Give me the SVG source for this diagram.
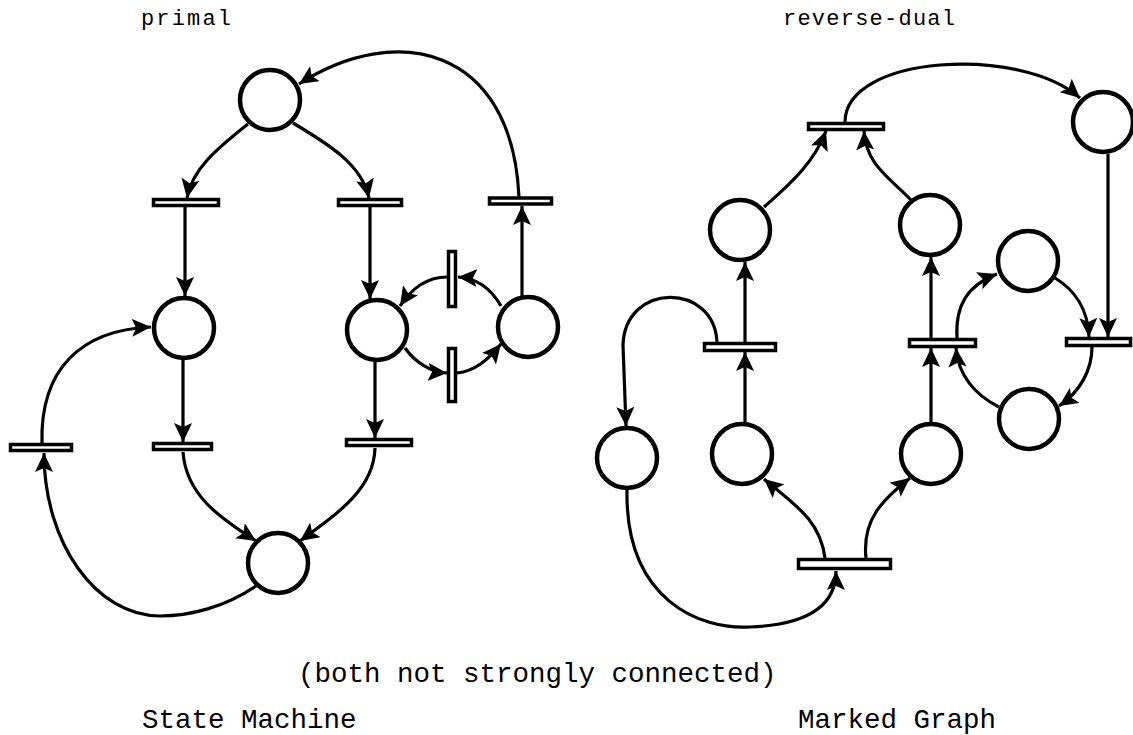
<svg xmlns="http://www.w3.org/2000/svg" width="1133" height="735" viewBox="0 0 1133 735">
<style>
.place{fill:#fff;stroke:#000;stroke-width:4.5}
.bar{fill:#fff;stroke:#000;stroke-width:3.5}
.arc{fill:none;stroke:#000;stroke-width:3.2;marker-end:url(#ah)}
.lbl{font-family:"Liberation Mono","DejaVu Sans Mono",monospace;fill:#000}
</style>
<defs>
<marker id="ah" markerUnits="userSpaceOnUse" markerWidth="20" markerHeight="18" refX="19" refY="9" orient="auto" viewBox="0 0 20 18">
<path d="M0,0 L19,9 L0,18 L4,9 z" fill="#000"/>
</marker>
</defs>
<rect width="1133" height="735" fill="#fff"/>

<g id="connectors">
<path class="arc" d="M248 124 C215 150 192 170 187 198"/>
<path class="arc" d="M293 123 C330 145 362 165 369 198"/>
<path class="arc" d="M519 197 C512 45 395 22 299 84"/>
<path class="arc" d="M185 207 L185 296"/>
<path class="arc" d="M370 207 L370 299"/>
<path class="arc" d="M183 360 L183 442"/>
<path class="arc" d="M375 362 L375 438"/>
<path class="arc" d="M183 452 C186 495 220 518 256 541"/>
<path class="arc" d="M375 448 C374 488 340 512 300 541"/>
<path class="arc" d="M256 586 C225 607 190 616 160 616 C96 616 44 543 44 453"/>
<path class="arc" d="M42 443 C40 370 80 330 151 327"/>
<path class="arc" d="M522 296 L522 206"/>
<path class="arc" d="M501 306 C490 287 476 278 458 277"/>
<path class="arc" d="M447 277 C428 277 412 288 400 306"/>
<path class="arc" d="M405 348 C415 362 430 372 447 373"/>
<path class="arc" d="M457 373 C475 371 488 360 501 344"/>

<path class="arc" d="M845 122 C845 55 1020 45 1080 98"/>
<path class="arc" d="M764 207 C795 180 815 160 826 131"/>
<path class="arc" d="M911 200 C890 178 866 165 864 131"/>
<path class="arc" d="M745 342 L745 262"/>
<path class="arc" d="M745 422 L745 352"/>
<path class="arc" d="M717 342 C714 282 625 282 623 345 L626 426"/>
<path class="arc" d="M931 338 L931 257"/>
<path class="arc" d="M931 422 L931 348"/>
<path class="arc" d="M1108 154 L1108 337"/>
<path class="arc" d="M1055 278 C1075 290 1088 310 1089 337"/>
<path class="arc" d="M1092 347 C1092 370 1080 392 1059 406"/>
<path class="arc" d="M957 338 C955 305 968 285 997 274"/>
<path class="arc" d="M999 407 C975 395 958 375 956 348"/>
<path class="arc" d="M825 558 C820 520 795 505 764 479"/>
<path class="arc" d="M866 558 C862 520 882 500 910 478"/>
<path class="arc" d="M627 490 C625 600 700 630 750 627 C800 625 836 610 836 571"/>
</g>

<g id="p_top"><circle class="place" cx="270" cy="100" r="30"/></g>
<g id="t1"><rect class="bar" x="153.5" y="199.5" width="65" height="6"/></g>
<g id="t2"><rect class="bar" x="338.5" y="199.5" width="63" height="6"/></g>
<g id="t3"><rect class="bar" x="489.5" y="198" width="62" height="6"/></g>
<g id="p_midL"><circle class="place" cx="184" cy="328" r="30"/></g>
<g id="p_midR"><circle class="place" cx="377" cy="330" r="30"/></g>
<g id="p_right"><circle class="place" cx="528" cy="327" r="30"/></g>
<g id="vbar_up"><rect class="bar" x="448.5" y="251.5" width="7" height="55"/></g>
<g id="vbar_low"><rect class="bar" x="448.5" y="348.5" width="7" height="53"/></g>
<g id="t4"><rect class="bar" x="153.5" y="443.5" width="58" height="6"/></g>
<g id="t5"><rect class="bar" x="10.5" y="444.5" width="61" height="6"/></g>
<g id="t6"><rect class="bar" x="346.5" y="439.5" width="65" height="6"/></g>
<g id="p_bot"><circle class="place" cx="278" cy="563" r="30"/></g>

<g id="t_top"><rect class="bar" x="808.5" y="123.5" width="75" height="6"/></g>
<g id="p_tr"><circle class="place" cx="1103" cy="122" r="30"/></g>
<g id="p_L1"><circle class="place" cx="740" cy="230" r="30"/></g>
<g id="p_R1"><circle class="place" cx="930" cy="225" r="30"/></g>
<g id="t_L"><rect class="bar" x="704.5" y="343.5" width="71" height="7"/></g>
<g id="t_R"><rect class="bar" x="909.5" y="339.5" width="66" height="7"/></g>
<g id="t_RR"><rect class="bar" x="1066.5" y="338.5" width="64" height="7"/></g>
<g id="p_R3"><circle class="place" cx="1028" cy="261" r="30"/></g>
<g id="p_R4"><circle class="place" cx="1029" cy="419" r="30"/></g>
<g id="p_BL"><circle class="place" cx="627" cy="458" r="30"/></g>
<g id="p_L2"><circle class="place" cx="742" cy="454" r="30"/></g>
<g id="p_R2"><circle class="place" cx="931" cy="454" r="30"/></g>
<g id="t_bot"><rect class="bar" x="798.5" y="559.5" width="92" height="9"/></g>

<text class="lbl" x="141" y="25" font-size="22" textLength="90" lengthAdjust="spacing">primal</text>
<text class="lbl" x="783" y="25" font-size="22" textLength="172" lengthAdjust="spacing">reverse-dual</text>
<text class="lbl" x="298" y="682" font-size="27.5">(both not strongly connected)</text>
<text class="lbl" x="142" y="728" font-size="27.5">State Machine</text>
<text class="lbl" x="798" y="728" font-size="27.5">Marked Graph</text>
</svg>
